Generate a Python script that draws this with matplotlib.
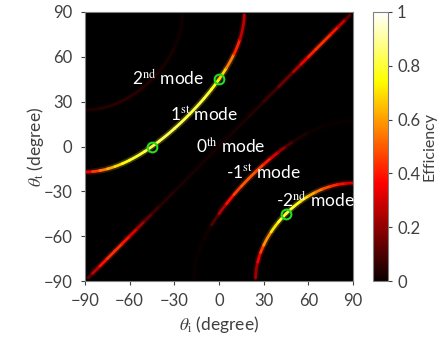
import numpy as np
import matplotlib.pyplot as plt
from matplotlib.collections import LineCollection

plt.rcParams['font.family'] = ['Lato', 'DejaVu Sans']
plt.rcParams['mathtext.fontset'] = 'stix'

# grating: sin(theta_t) = sin(theta_i) + m * sin(45 deg)
grating_k = np.sin(np.radians(45))

# efficiency read along each diffraction order (theta_i in degrees)
m1_ti = [-90, -85, -80, -75, -70, -65, -60, -50, -40, -30, -20, -10, -5, 0, 5, 10, 14, 17]
m1_eff = [0.25, 0.4, 0.5, 0.58, 0.66, 0.72, 0.77, 0.8, 0.82, 0.82, 0.82, 0.8, 0.78, 0.74, 0.62, 0.48, 0.35, 0.2]

m2_ti = [-90, -80, -70, -60, -50, -40, -30, -24.5]
m2_eff = [0.02, 0.04, 0.05, 0.05, 0.04, 0.03, 0.02, 0.01]

m0_ti = [-88, -85, -80, -75, -70, -65, -60, -55, -50, -45, -40, -30, -20, -10, 0, 10, 20, 30, 40, 50, 55, 60, 65, 70, 75, 80, 85, 88]
m0_eff = [0.05, 0.2, 0.35, 0.42, 0.44, 0.42, 0.36, 0.28, 0.18, 0.1, 0.06, 0.03, 0.02, 0.02, 0.02, 0.02, 0.03, 0.05, 0.1, 0.2, 0.3, 0.38, 0.43, 0.44, 0.42, 0.36, 0.2, 0.05]

mm1_ti = [-17, -10, -5, 0, 5, 10, 15, 20, 25, 30, 35, 40, 45, 50, 60, 70, 90]
mm1_eff = [0.0, 0.0, 0.03, 0.18, 0.33, 0.43, 0.48, 0.5, 0.48, 0.44, 0.36, 0.26, 0.14, 0.05, 0.01, 0.0, 0.0]

mm2_ti = [24.5, 26, 28, 30, 35, 40, 45, 50, 55, 60, 65, 70, 75, 80, 85, 90]
mm2_eff = [0.15, 0.3, 0.4, 0.5, 0.65, 0.76, 0.82, 0.8, 0.74, 0.66, 0.58, 0.5, 0.45, 0.4, 0.35, 0.25]

modes = [(1, m1_ti, m1_eff), (2, m2_ti, m2_eff), (0, m0_ti, m0_eff),
         (-1, mm1_ti, mm1_eff), (-2, mm2_ti, mm2_eff)]

# marked points
mark_ti = [-45, 0, 45]
mark_tt = [0, 45, -45]

labels = ['2$^{\\mathrm{nd}}$ mode', '1$^{\\mathrm{st}}$ mode', '0$^{\\mathrm{th}}$ mode',
          '-1$^{\\mathrm{st}}$ mode', '-2$^{\\mathrm{nd}}$ mode']
label_ti = [-58.5, -33, -15.5, 5, 38]
label_tt = [46, 21, 0.5, -18, -36]


def theta_t(ti, m):
    s = np.sin(np.radians(ti)) + m * grating_k
    return np.degrees(np.arcsin(np.clip(s, -1, 1)))


fig = plt.figure(figsize=(4.45, 3.39), dpi=100)
ax = fig.add_axes([85 / 445, 58 / 339, 268 / 445, 269 / 339])
ax.set_facecolor('black')

# one short polyline per sampled interval, coloured by its efficiency
segs = []
vals = []
for m, ti, eff in modes:
    for j in range(len(ti) - 1):
        sub = np.linspace(ti[j], ti[j + 1], 20)
        segs.append(np.column_stack([sub, theta_t(sub, m)]))
        vals.append(0.5 * (eff[j] + eff[j + 1]))

vals = np.array(vals)
glow = LineCollection(segs, cmap='hot', norm=plt.Normalize(0, 1), linewidths=4.5, alpha=0.22, capstyle='butt')
glow.set_array(vals)
ax.add_collection(glow)
core = LineCollection(segs, cmap='hot', norm=plt.Normalize(0, 1), linewidths=2.0, capstyle='round')
core.set_array(vals)
ax.add_collection(core)

ax.plot(mark_ti, mark_tt, 'o', ms=7, mfc='none', mec='#22dd22', mew=1.5)

for txt, x, y in zip(labels, label_ti, label_tt):
    ax.text(x, y, txt, color='white', fontsize=12.5, ha='left', va='center')

ax.set_xlim(-90, 90)
ax.set_ylim(-90, 90)
ticks = [-90, -60, -30, 0, 30, 60, 90]
ax.set_xticks(ticks)
ax.set_yticks(ticks)
ax.tick_params(direction='out', length=3, labelsize=12, colors='#404040', pad=6)
for sp in ax.spines.values():
    sp.set_color('#808080')
ax.set_xlabel(r'$\theta_{\mathrm{i}}$ (degree)', fontsize=12.5, color='#404040', labelpad=3)
ax.set_ylabel(r'$\theta_{\mathrm{t}}$ (degree)', fontsize=12.5, color='#404040', labelpad=-2)

cax = fig.add_axes([373 / 445, 58 / 339, 15 / 445, 269 / 339])
cb = fig.colorbar(core, cax=cax)
cb.set_ticks([0, 0.2, 0.4, 0.6, 0.8, 1])
cb.set_ticklabels(['0', '0.2', '0.4', '0.6', '0.8', '1'])
cb.ax.tick_params(labelsize=12, colors='#404040', length=3)
cb.outline.set_edgecolor('#808080')
cb.set_label('Efficiency', fontsize=11.5, color='#404040', labelpad=2)

fig.savefig('out.png', dpi=100, facecolor='white')
